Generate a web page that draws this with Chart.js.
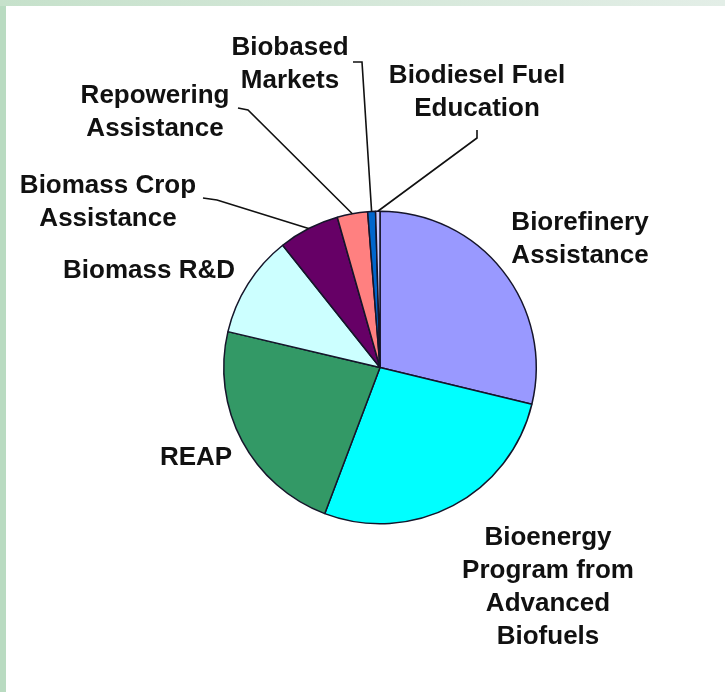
<!DOCTYPE html>
<html>
<head>
<meta charset="utf-8">
<title>Energy title funding</title>
<script src="https://cdn.jsdelivr.net/npm/chart.js@4.4.0/dist/chart.umd.min.js"></script>
<style>
  html, body { margin: 0; padding: 0; background: #ffffff; overflow: hidden; }
  .frame-left { position: absolute; left: 0; top: 0; width: 6px; height: 692px; background: #b9dbc1; }
  .frame-top { position: absolute; left: 0; top: 0; width: 725px; height: 6px;
               background: linear-gradient(to right, #c6e1cb, #e3eee7); }
  .chart-box { position: absolute; left: 0; top: 0; width: 725px; height: 692px; }
</style>
</head>
<body>
<div class="chart-box"><canvas id="pie"></canvas></div>
<div class="frame-left"></div>
<div class="frame-top"></div>
<script>
// slices, clockwise from 12 o'clock ($ million)
const categories = [
  'Biorefinery Assistance',
  'Bioenergy Program from Advanced Biofuels',
  'REAP',
  'Biomass R&D',
  'Biomass Crop Assistance',
  'Repowering Assistance',
  'Biobased Markets',
  'Biodiesel Fuel Education'
];
const funding = [320, 300, 255, 118, 70, 35, 9, 5];
const sliceColors = ['#9999ff', '#00ffff', '#339966', '#ccffff', '#660066', '#ff8080', '#0066cc', '#ccccff'];

// how each label is broken into lines
const labelLines = [
  ['Biorefinery', 'Assistance'],
  ['Bioenergy', 'Program from', 'Advanced', 'Biofuels'],
  ['REAP'],
  ['Biomass R&D'],
  ['Biomass Crop', 'Assistance'],
  ['Repowering', 'Assistance'],
  ['Biobased', 'Markets'],
  ['Biodiesel Fuel', 'Education']
];

// label placement (centre x, first baseline) and leader line start points
const labelPos = [
  { x: 580, y: 230, leader: null },
  { x: 548, y: 545, leader: null },
  { x: 196, y: 465, leader: null },
  { x: 149, y: 278, leader: null },
  { x: 108, y: 193, leader: [[203, 198], [217, 200]] },
  { x: 155, y: 103, leader: [[238, 108], [248, 110]] },
  { x: 290, y: 55,  leader: [[353, 62], [362, 62]] },
  { x: 477, y: 83,  leader: [[477, 130], [477, 138]] }
];
const lineGap = 33;

const calloutPlugin = {
  id: 'callouts',
  afterDatasetsDraw(chart) {
    const ctx = chart.ctx;
    const arcs = chart.getDatasetMeta(0).data;
    ctx.save();
    // leader lines
    ctx.strokeStyle = '#111';
    ctx.lineWidth = 1.6;
    arcs.forEach((arc, i) => {
      const pos = labelPos[i];
      if (!pos.leader) return;
      const p = arc.getProps(['x', 'y', 'startAngle', 'endAngle', 'outerRadius'], true);
      const mid = (p.startAngle + p.endAngle) / 2;
      const ex = p.x + Math.cos(mid) * p.outerRadius;
      const ey = p.y + Math.sin(mid) * p.outerRadius;
      ctx.beginPath();
      ctx.moveTo(pos.leader[0][0], pos.leader[0][1]);
      for (let k = 1; k < pos.leader.length; k++) ctx.lineTo(pos.leader[k][0], pos.leader[k][1]);
      ctx.lineTo(ex, ey);
      ctx.stroke();
    });
    // text
    ctx.fillStyle = '#111';
    ctx.font = 'bold 26px "Liberation Sans", Arial, sans-serif';
    ctx.textAlign = 'center';
    ctx.textBaseline = 'alphabetic';
    labelLines.forEach((lines, i) => {
      const pos = labelPos[i];
      lines.forEach((t, k) => ctx.fillText(t, pos.x, pos.y + k * lineGap));
    });
    ctx.restore();
  }
};

new Chart(document.getElementById('pie'), {
  type: 'pie',
  data: {
    labels: categories,
    datasets: [{
      data: funding,
      backgroundColor: sliceColors,
      borderColor: '#15152a',
      borderWidth: 1.5
    }]
  },
  options: {
    responsive: true,
    maintainAspectRatio: false,
    animation: false,
    events: [],
    layout: { padding: { left: 223, right: 188, top: 210.5, bottom: 167.5 } },
    plugins: {
      legend: { display: false },
      tooltip: { enabled: false }
    }
  },
  plugins: [calloutPlugin]
});
</script>
</body>
</html>
